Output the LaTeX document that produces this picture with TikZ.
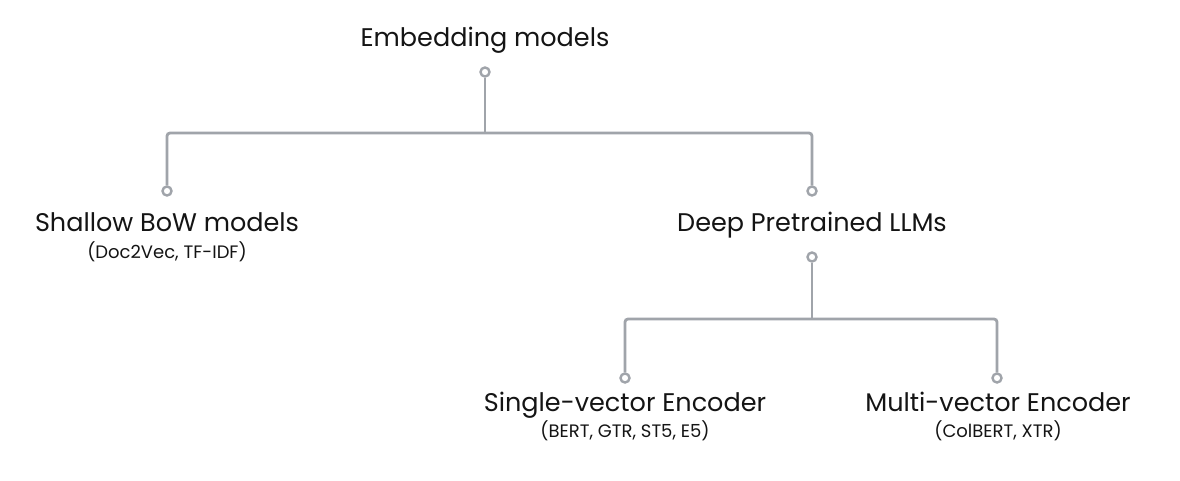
\documentclass[tikz,border=0pt]{standalone}
\usepackage{fontspec}
\setmainfont{Poppins}
\definecolor{linegray}{RGB}{160,164,170}
\definecolor{textblack}{RGB}{20,20,20}
\tikzset{
  conn/.style={draw=linegray, line width=2.8pt, rounded corners=3pt},
  dot/.style={circle, draw=linegray, line width=2.4pt, fill=white, minimum size=9pt, inner sep=0pt},
  title/.style={anchor=base, inner sep=0pt, text=textblack, font=\fontsize{25.5}{28}\selectfont},
  subtitle/.style={anchor=base, inner sep=0pt, text=textblack, font=\fontsize{18}{21}\selectfont},
}
\begin{document}
\begin{tikzpicture}[x=1pt, y=-1pt]
\useasboundingbox[fill=white] (0,0) rectangle (1180,480);
% texts
\node[title] (root) at (485,46) {Embedding models};
\node[title] (shallow) at (167,231) {Shallow BoW models};
\node[subtitle] (shallowsub) at (167,258) {(Doc2Vec, TF-IDF)};
\node[title] (deep) at (812,231) {Deep Pretrained LLMs};
\node[title] (single) at (625,411) {Single-vector Encoder};
\node[subtitle] (singlesub) at (625,437) {(BERT, GTR, ST5, E5)};
\node[title] (multi) at (998,411) {Multi-vector Encoder};
\node[subtitle] (multisub) at (998,437) {(ColBERT, XTR)};
% junction coordinates
\coordinate (bar1) at (485,133);
\coordinate (bar2) at (812,319);
% dots
\node[dot] (d0) at (485,72) {};
\node[dot] (d1) at (167,191) {};
\node[dot] (d2) at (812,191) {};
\node[dot] (d3) at (812,257) {};
\node[dot] (d4) at (625,378) {};
\node[dot] (d5) at (997,378) {};
% connectors
\draw[conn] (d0.south) -- (bar1);
\draw[conn] (d1.north) |- (bar1) -| (d2.north);
\draw[conn] (d3.south) -- (bar2);
\draw[conn] (d4.north) |- (bar2) -| (d5.north);
\end{tikzpicture}
\end{document}
